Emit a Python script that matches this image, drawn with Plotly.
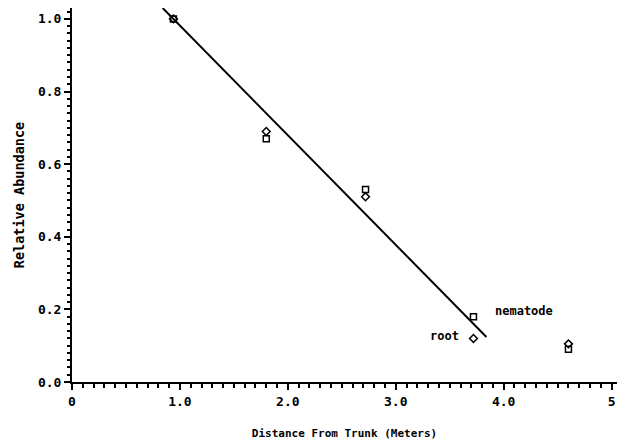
import plotly.graph_objects as go

# Data (distance from trunk in meters; relative abundance)
distance = [0.94, 1.80, 2.72, 3.72, 4.60]
nematode = [1.00, 0.67, 0.53, 0.18, 0.09]
root = [1.00, 0.69, 0.51, 0.12, 0.105]

# Fitted line endpoints
line_x = [0.84, 3.84]
line_y = [1.03, 0.124]

x_label_alias = {"0.0": "0", "5.0": "5"}

FONT = "DejaVu Sans Mono"

fig = go.Figure()
fig.add_trace(go.Scatter(x=line_x, y=line_y, mode="lines",
                         line=dict(color="black", width=2), showlegend=False))
fig.add_trace(go.Scatter(x=distance, y=nematode, mode="markers", name="nematode",
                         marker=dict(symbol="square-open", size=6, color="black",
                                     line=dict(width=1.5)), showlegend=False))
fig.add_trace(go.Scatter(x=distance, y=root, mode="markers", name="root",
                         marker=dict(symbol="diamond-open", size=6, color="black",
                                     line=dict(width=1.5)), showlegend=False))

fig.add_annotation(x=distance[3], y=nematode[3], text="<b>nematode</b>", showarrow=False,
                   xanchor="left", xshift=20, yshift=6,
                   font=dict(family=FONT, size=12, color="black"))
fig.add_annotation(x=distance[3], y=root[3], text="<b>root</b>", showarrow=False,
                   xanchor="right", xshift=-12, yshift=2,
                   font=dict(family=FONT, size=12, color="black"))

fig.update_layout(
    width=619, height=442,
    margin=dict(l=72, r=2, t=8, b=60),
    paper_bgcolor="white", plot_bgcolor="white",
    font=dict(family=FONT, color="black"),
)
fig.update_xaxes(
    range=[0, 5.05], showgrid=False, zeroline=False,
    showline=True, linecolor="black", linewidth=2,
    tickmode="linear", tick0=0, dtick=1, tickformat=".1f", labelalias=x_label_alias,
    ticks="outside", ticklen=6, tickwidth=2, tickcolor="black",
    tickfont=dict(family=FONT, size=13, color="black", weight="bold"),
    minor=dict(dtick=0.1, ticks="outside", ticklen=4, tickcolor="black", tickwidth=1.5),
    title=dict(text="<b>Distance From Trunk (Meters)</b>", standoff=22,
               font=dict(family=FONT, size=11, color="black")),
)
fig.update_yaxes(
    range=[0, 1.03], showgrid=False, zeroline=False,
    showline=True, linecolor="black", linewidth=2,
    tickmode="linear", tick0=0, dtick=0.2, tickformat=".1f",
    ticks="outside", ticklen=6, tickwidth=2, tickcolor="black",
    tickfont=dict(family=FONT, size=13, color="black", weight="bold"),
    minor=dict(dtick=0.02, ticks="outside", ticklen=3, tickcolor="black", tickwidth=1.5),
    title=dict(text="<b>Relative Abundance</b>", standoff=10,
               font=dict(family=FONT, size=13.5, color="black")),
)

fig.write_html("out.html")
